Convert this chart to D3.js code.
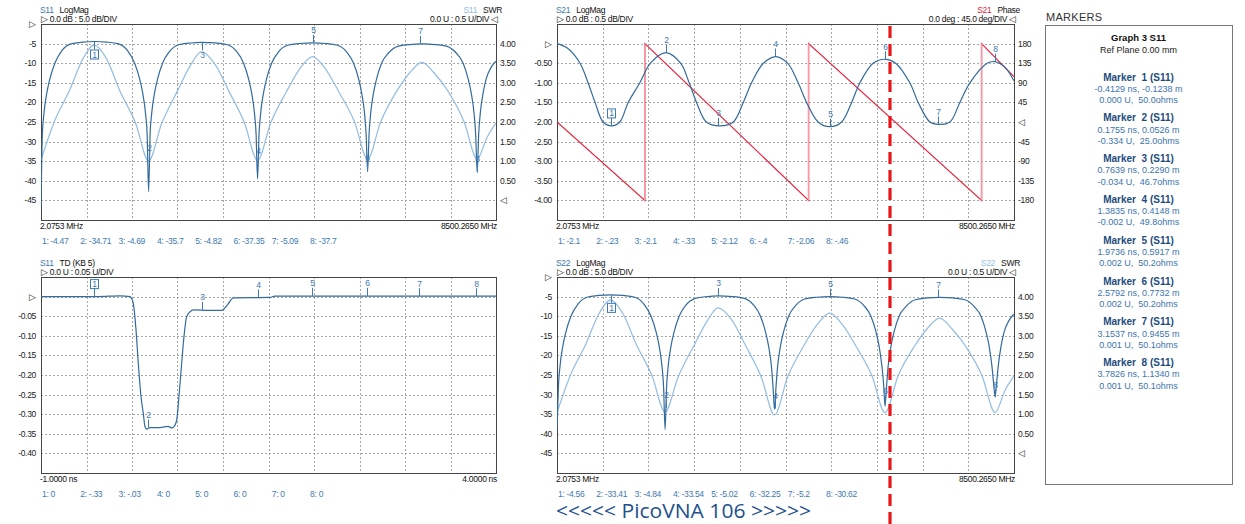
<!DOCTYPE html>
<html>
<head>
<meta charset="utf-8">
<script src="https://cdn.jsdelivr.net/npm/d3@7"></script>
<style>
body { margin: 0; background: #fff; }
svg { display: block; font-family: "Liberation Sans", Arial, sans-serif; }
.g text { font-size: 8.5px; letter-spacing: -0.3px; }
</style>
</head>
<body>
<svg width="1245" height="524"></svg>
<script>
// ---- sweep data (GHz) ----
var fMag = [0.002, 0.028, 0.056, 0.112, 0.168, 0.261, 0.392, 0.560, 0.784, 0.995, 1.227, 1.451, 1.619, 1.751, 1.845, 1.900, 1.956, 1.984, 2.012,
  2.040, 2.068, 2.124, 2.180, 2.273, 2.404, 2.572, 2.796, 2.994, 3.263, 3.487, 3.655, 3.786, 3.879, 3.935, 3.991, 4.019, 4.047,
  4.075, 4.103, 4.159, 4.215, 4.309, 4.439, 4.607, 4.832, 5.075, 5.317, 5.541, 5.709, 5.840, 5.934, 5.990, 6.046, 6.074, 6.102,
  6.130, 6.158, 6.214, 6.270, 6.363, 6.494, 6.662, 6.886, 7.125, 7.364, 7.588, 7.757, 7.887, 7.980, 8.036, 8.092, 8.120, 8.149,
  8.177, 8.205, 8.261, 8.317, 8.411, 8.498];
var s11Mag = [-47, -28, -23, -17.5, -14, -10, -6.8, -5.07, -4.62, -4.47, -4.62, -5.07, -6.8, -10, -14, -17.5, -23, -28, -42.8,
  -28, -23, -17.5, -14, -10, -7.0, -5.29, -4.84, -4.69, -4.84, -5.29, -7.0, -10, -14, -17.5, -23, -28, -39.5,
  -28, -23, -17.5, -14, -10, -7.1, -5.42, -4.97, -4.82, -4.97, -5.42, -7.1, -10, -14, -17.5, -23, -28, -37.7,
  -28, -23, -17.5, -14, -10, -7.4, -5.69, -5.24, -5.09, -5.24, -5.69, -7.4, -10, -14, -17.5, -23, -28, -37.9,
  -28, -23, -17.5, -14, -11, -9.5];
var s22Mag = [-39, -28, -23, -17.5, -14, -10, -6.9, -5.16, -4.71, -4.56, -4.71, -5.16, -6.9, -10, -14, -17.5, -23, -28, -38.9,
  -28, -23, -17.5, -14, -10, -7.1, -5.44, -4.99, -4.84, -4.99, -5.44, -7.1, -10, -14, -17.5, -23, -28, -33.8,
  -28, -23, -17.5, -14, -10, -7.3, -5.62, -5.17, -5.02, -5.17, -5.62, -7.3, -10, -14, -17.5, -23, -27, -33.0,
  -28, -23, -17.5, -14, -10, -7.5, -5.8, -5.35, -5.2, -5.35, -5.8, -7.5, -10, -14, -17.5, -23, -27, -30.6,
  -27, -23, -17.5, -14, -11, -9.5];

var fSwr = [0.002, 0.243, 0.542, 0.784, 0.995, 1.227, 1.470, 1.769, 2.012, 2.255, 2.553, 2.796, 2.994, 3.263, 3.506, 3.805, 4.047,
  4.290, 4.589, 4.832, 5.075, 5.317, 5.560, 5.859, 6.102, 6.345, 6.643, 6.886, 7.116, 7.345, 7.607, 7.906, 8.149, 8.330, 8.498];
var s11Swr = [1.03, 1.98, 2.83, 3.61, 3.96, 3.61, 2.81, 1.97, 1.01, 1.96, 2.80, 3.45, 3.79, 3.45, 2.80, 1.97, 1.02,
  1.97, 2.78, 3.35, 3.67, 3.35, 2.78, 2.00, 1.06, 2.00, 2.78, 3.25, 3.52, 3.25, 2.78, 2.00, 1.06, 1.6, 1.97];
var s22Swr = [1.04, 1.97, 2.80, 3.57, 3.91, 3.57, 2.80, 1.98, 1.06, 1.95, 2.76, 3.38, 3.71, 3.38, 2.76, 1.93, 0.98,
  1.95, 2.74, 3.27, 3.58, 3.27, 2.74, 1.98, 1.04, 1.98, 2.72, 3.18, 3.45, 3.18, 2.72, 1.98, 1.04, 1.6, 1.97];

var fS21 = [0.002, 0.2, 0.43, 0.58, 0.71, 0.86, 1.017, 1.17, 1.326, 1.543, 1.74, 2.027, 2.30, 2.46, 2.597, 2.78, 3.031,
  3.28, 3.466, 3.62, 3.84, 4.072, 4.29, 4.487, 4.643, 4.858, 5.076, 5.295, 5.481, 5.635, 5.88, 6.105, 6.30, 6.563,
  6.718, 6.935, 7.079, 7.308, 7.494, 7.68, 8.0, 8.145, 8.33, 8.498];
var s21Mag = [0, -0.12, -0.5, -1.0, -1.5, -2.0, -2.1, -2.0, -1.5, -1.0, -0.5, -0.23, -0.5, -1.0, -1.5, -2.0, -2.1,
  -2.0, -1.5, -1.0, -0.5, -0.33, -0.5, -1.0, -1.5, -2.0, -2.12, -2.0, -1.5, -1.0, -0.5, -0.4, -0.5, -1.0,
  -1.5, -2.0, -2.06, -2.0, -1.5, -1.0, -0.5, -0.46, -0.6, -0.95];
var fPhase = [0.002, 1.636, 1.636, 4.680, 4.680, 7.897, 7.897, 8.498];
var s21Phase = [0, -180, 180, -180, 180, -180, 180, 104];

// time domain (ns, U)
var tdTime = [-1.0, -0.374, -0.132, -0.022, 0.014, 0.044, 0.069, 0.099, 0.124, 0.143, 0.162, 0.198, 0.308, 0.396, 0.440,
  0.467, 0.491, 0.516, 0.546, 0.571, 0.601, 0.637, 0.674, 0.857, 0.986, 1.055, 1.113, 1.516, 1.571, 4.0];
var tdVal = [0, 0, 0.002, 0, -0.017, -0.085, -0.170, -0.255, -0.298, -0.332, -0.338, -0.334, -0.334, -0.331, -0.335,
  -0.330, -0.315, -0.255, -0.170, -0.102, -0.051, -0.039, -0.034, -0.035, -0.035, -0.019, -0.003, -0.002, 0.001, 0.001];

// markers
var markerFreq = [1.0, 2.02, 3.0, 4.05, 5.075, 6.10, 7.08, 8.147];
var s11Read = [-4.47, -34.71, -4.69, -35.7, -4.82, -37.35, -5.09, -37.7];
var s21Read = [-2.1, -0.23, -2.1, -0.33, -2.12, -0.4, -2.06, -0.46];
var tdRead = [0, -0.33, -0.03, 0, 0, 0, 0, 0];
var s22Read = [-4.56, -33.41, -4.84, -33.54, -5.02, -32.25, -5.2, -30.62];

var mkTime = [-0.4129, 0.1755, 0.7639, 1.3835, 1.9736, 2.5792, 3.1537, 3.7826];
var mkDist = [-0.1238, 0.0526, 0.2290, 0.4148, 0.5917, 0.7732, 0.9455, 1.1340];
var mkRho = [0.000, -0.334, -0.034, -0.002, 0.002, 0.002, 0.001, 0.001];
var mkZ = [50.0, 25.0, 46.7, 49.8, 50.2, 50.2, 50.1, 50.1];

var svg = d3.select("svg");
var dark = "#336b9e", light = "#94bde3", red = "#e8203a", pink = "#f49aa8", blueTxt = "#4079b3";
var loc = d3.formatLocale({decimal: ".", thousands: ",", grouping: [3], currency: ["", ""], minus: "-"});

var root = svg.append("g").attr("class", "g");

function makePanel(c) {
  var g = root.append("g");
  var x = d3.scaleLinear().domain(c.xDom).range([c.left, c.left + c.w]);
  var y = d3.scaleLinear().domain(c.yDom).range([c.top + c.h, c.top]);
  var y2 = c.y2Dom ? d3.scaleLinear().domain(c.y2Dom).range([c.top + c.h, c.top]) : null;

  var xs = d3.range(1, 10).map(function(i) { return c.xDom[0] + i * (c.xDom[1] - c.xDom[0]) / 10; });
  var ys = d3.range(1, 10).map(function(i) { return c.yDom[0] + i * (c.yDom[1] - c.yDom[0]) / 10; });

  g.selectAll(".gx").data(xs).enter().append("line")
      .attr("x1", function(d) { return Math.round(x(d)) + 0.5; })
      .attr("x2", function(d) { return Math.round(x(d)) + 0.5; })
      .attr("y1", c.top).attr("y2", c.top + c.h)
      .attr("stroke", "#a6a6a6").attr("stroke-dasharray", "2,2");
  g.selectAll(".gy").data(ys).enter().append("line")
      .attr("y1", function(d) { return Math.round(y(d)) + 0.5; })
      .attr("y2", function(d) { return Math.round(y(d)) + 0.5; })
      .attr("x1", c.left).attr("x2", c.left + c.w)
      .attr("stroke", "#a6a6a6").attr("stroke-dasharray", "2,2");

  g.append("rect")
      .attr("x", c.left + 0.5).attr("y", c.top + 0.5)
      .attr("width", c.w).attr("height", c.h)
      .attr("fill", "none").attr("stroke", "#444");

  // left tick labels
  g.selectAll(".yl").data(c.yTicks).enter().append("text")
      .attr("x", c.left - 5).attr("y", function(d) { return y(d); })
      .attr("dy", "0.35em").attr("text-anchor", "end").attr("fill", "#222")
      .text(function(d) { return d === 0 ? "\u25B7" : c.yFmt(d); });
  if (y2) {
    g.selectAll(".yr").data(c.y2Ticks).enter().append("text")
        .attr("x", c.left + c.w + 4).attr("y", function(d) { return y2(d); })
        .attr("dy", "0.35em").attr("fill", "#222")
        .text(function(d) { return d === 0 ? "\u25C1" : c.y2Fmt(d); });
  }

  // headers
  var h1 = g.append("text").attr("x", c.left - 1).attr("y", c.top - 11.5);
  h1.append("tspan").attr("fill", blueTxt).text(c.head[0]);
  h1.append("tspan").attr("fill", "#111").attr("dx", 6).text(c.head[1]);
  g.append("text").attr("x", c.left).attr("y", c.top - 2.5).attr("fill", "#111").text("\u25B7 " + c.head[2]);
  if (c.headR) {
    var h2 = g.append("text").attr("x", c.left + c.w + 6).attr("y", c.top - 11.5).attr("text-anchor", "end");
    h2.append("tspan").attr("fill", c.headR[3]).text(c.headR[0]);
    h2.append("tspan").attr("fill", "#111").attr("dx", 6).text(c.headR[1]);
    g.append("text").attr("x", c.left + c.w + 2).attr("y", c.top - 2.5).attr("text-anchor", "end")
        .attr("fill", "#111").text(c.headR[2] + " \u25C1");
  }

  // x extent labels
  g.append("text").attr("x", c.left - 1).attr("y", c.top + c.h + 8.5).attr("fill", "#111").text(c.xLab[0]);
  g.append("text").attr("x", c.left + c.w + 1).attr("y", c.top + c.h + 8.5).attr("text-anchor", "end")
      .attr("fill", "#111").text(c.xLab[1]);

  // marker readouts
  g.selectAll(".rd").data(c.read).enter().append("text")
      .attr("x", function(d, i) { return c.left + 1 + i * 38.3; })
      .attr("y", c.top + c.h + 24)
      .attr("fill", blueTxt)
      .text(function(d, i) { return (i + 1) + ": " + String(d).replace(/^(-?)0\./, "$1."); });

  var id = "clip" + c.id;
  svg.append("clipPath").attr("id", id).append("rect")
      .attr("x", c.left).attr("y", c.top).attr("width", c.w + 1).attr("height", c.h + 1);
  var plot = g.append("g").attr("clip-path", "url(#" + id + ")");
  return {g: g, plot: plot, x: x, y: y, y2: y2};
}

function trace(p, scale, xs, vs, color, curve) {
  var line = d3.line()
      .x(function(d) { return p.x(d[0]); })
      .y(function(d) { return scale(d[1]); })
      .curve(curve || d3.curveMonotoneX);
  p.plot.append("path")
      .datum(xs.map(function(v, i) { return [v, vs[i]]; }))
      .attr("d", line).attr("fill", "none")
      .attr("stroke", color).attr("stroke-width", 1.2);
}

function markers(p, xs, vs, dirs) {
  xs.forEach(function(xv, i) {
    var px = Math.round(p.x(xv)) + 0.5, py = p.y(vs[i]), d = dirs[i];
    p.g.append("line").attr("x1", px).attr("x2", px).attr("y1", py).attr("y2", py + d * 8)
        .attr("stroke", blueTxt);
    var ty = d < 0 ? py - 9.5 : py + 16;
    p.g.append("text").attr("x", px).attr("y", ty).attr("text-anchor", "middle")
        .attr("fill", blueTxt).text(i + 1);
    if (i === 0) {
      p.g.append("rect").attr("x", px - 4).attr("y", ty - 7.5).attr("width", 8).attr("height", 9)
          .attr("fill", "none").attr("stroke", blueTxt);
    }
  });
}

var fmt2 = loc.format(".2f");
var dbTicks = [0, -5, -10, -15, -20, -25, -30, -35, -40, -45];
var swrTicks = [0, 0.5, 1, 1.5, 2, 2.5, 3, 3.5, 4];

// ---- top left: S11 LogMag / SWR ----
var tl = makePanel({id: "tl", left: 41, top: 24, w: 455, h: 196,
  xDom: [0.0020753, 8.500265], yDom: [-50, 0], y2Dom: [-0.5, 4.5],
  yTicks: dbTicks, yFmt: String, y2Ticks: swrTicks, y2Fmt: fmt2,
  head: ["S11", "LogMag", "0.0 dB : 5.0 dB/DIV"], headR: ["S11", "SWR", "0.0 U : 0.5 U/DIV", light],
  xLab: ["2.0753 MHz", "8500.2650 MHz"], read: s11Read});
trace(tl, tl.y2, fSwr, s11Swr, light);
trace(tl, tl.y, fMag, s11Mag, dark);
markers(tl, markerFreq, s11Read, [1, -1, 1, -1, -1, -1, -1, -1]);

// ---- top right: S21 LogMag / Phase ----
var tr = makePanel({id: "tr", left: 557, top: 24, w: 457, h: 196,
  xDom: [0.0020753, 8.500265], yDom: [-4.5, 0.5], y2Dom: [-225, 225],
  yTicks: [0, -0.5, -1, -1.5, -2, -2.5, -3, -3.5, -4], yFmt: fmt2,
  y2Ticks: [180, 135, 90, 45, 0, -45, -90, -135, -180], y2Fmt: String,
  head: ["S21", "LogMag", "0.0 dB : 0.5 dB/DIV"], headR: ["S21", "Phase", "0.0 deg : 45.0 deg/DIV", red],
  xLab: ["2.0753 MHz", "8500.2650 MHz"], read: s21Read});
trace(tr, tr.y2, fPhase, s21Phase, red, d3.curveLinear);
// phase wrap jumps
fPhase.forEach(function(f, i) {
  if (i > 0 && f === fPhase[i - 1]) {
    tr.plot.append("line")
        .attr("x1", tr.x(f)).attr("x2", tr.x(f))
        .attr("y1", tr.y2(s21Phase[i - 1])).attr("y2", tr.y2(s21Phase[i]))
        .attr("stroke", pink).attr("stroke-width", 1.6);
  }
});
trace(tr, tr.y, fS21, s21Mag, dark, d3.curveCatmullRom.alpha(0.5));
markers(tr, markerFreq, s21Read, [-1, -1, -1, -1, -1, -1, -1, -1]);

// ---- bottom left: S11 time domain ----
var bl = makePanel({id: "bl", left: 41, top: 277, w: 455, h: 196,
  xDom: [-1, 4], yDom: [-0.45, 0.05],
  yTicks: [0, -0.05, -0.1, -0.15, -0.2, -0.25, -0.3, -0.35, -0.4], yFmt: fmt2,
  head: ["S11", "TD (KB  5)", "0.0 U : 0.05 U/DIV"],
  xLab: ["-1.0000 ns", "4.0000 ns"], read: tdRead});
trace(bl, bl.y, tdTime, tdVal, dark, d3.curveMonotoneX);
markers(bl, mkTime, mkRho, [-1, -1, -1, -1, -1, -1, -1, -1]);

// ---- bottom right: S22 LogMag / SWR ----
var br = makePanel({id: "br", left: 557, top: 277, w: 457, h: 196,
  xDom: [0.0020753, 8.500265], yDom: [-50, 0], y2Dom: [-0.5, 4.5],
  yTicks: dbTicks, yFmt: String, y2Ticks: swrTicks, y2Fmt: fmt2,
  head: ["S22", "LogMag", "0.0 dB : 5.0 dB/DIV"], headR: ["S22", "SWR", "0.0 U : 0.5 U/DIV", light],
  xLab: ["2.0753 MHz", "8500.2650 MHz"], read: s22Read});
trace(br, br.y2, fSwr, s22Swr, light);
trace(br, br.y, fMag, s22Mag, dark);
markers(br, markerFreq, s22Read, [1, -1, -1, -1, -1, -1, -1, -1]);

// ---- markers list ----
svg.append("text").attr("x", 1046).attr("y", 21).attr("fill", "#333")
    .style("font-size", "11px").style("letter-spacing", "0.3px").text("MARKERS");
svg.append("rect").attr("x", 1045.5).attr("y", 25.5).attr("width", 187).attr("height", 459)
    .attr("fill", "none").attr("stroke", "#777");
var cx = 1138.5;
svg.append("text").attr("x", cx).attr("y", 40.5).attr("text-anchor", "middle")
    .style("font-size", "9.5px").style("font-weight", "bold").attr("fill", "#111").text("Graph 3 S11");
svg.append("text").attr("x", cx).attr("y", 53).attr("text-anchor", "middle")
    .style("font-size", "9px").attr("fill", "#222").text("Ref Plane 0.00 mm");
var f4 = loc.format(".4f"), f3 = loc.format(".3f"), f1 = loc.format(".1f");
var mk = svg.selectAll(".mk").data(mkTime).enter().append("g")
    .attr("transform", function(d, i) { return "translate(0," + (80.5 + i * 40.8) + ")"; });
mk.append("text").attr("x", cx).attr("text-anchor", "middle")
    .style("font-size", "10px").style("font-weight", "bold").attr("fill", "#1d4c7c")
    .text(function(d, i) { return "Marker\u00a0 " + (i + 1) + " (S11)"; });
mk.append("text").attr("x", cx).attr("y", 11.3).attr("text-anchor", "middle")
    .style("font-size", "9px").attr("fill", "#3c74ad")
    .text(function(d, i) { return f4(d) + " ns, " + f4(mkDist[i]) + " m"; });
mk.append("text").attr("x", cx).attr("y", 22.5).attr("text-anchor", "middle")
    .style("font-size", "9px").attr("fill", "#3c74ad")
    .text(function(d, i) { return f3(mkRho[i]) + " U,\u00a0 " + f1(mkZ[i]) + "ohms"; });

// ---- banner and cursor ----
svg.append("text").attr("x", 556).attr("y", 518)
    .style("font-family", "'Open Sans', sans-serif").style("font-size", "20px")
    .attr("textLength", 255).attr("lengthAdjust", "spacingAndGlyphs")
    .attr("fill", "#22508c").text("<<<<< PicoVNA 106  >>>>>");
svg.append("line").attr("x1", 890).attr("x2", 890).attr("y1", 26).attr("y2", 524)
    .attr("stroke", "#e8161b").attr("stroke-width", 3.2).attr("stroke-dasharray", "12,6");
</script>
</body>
</html>
